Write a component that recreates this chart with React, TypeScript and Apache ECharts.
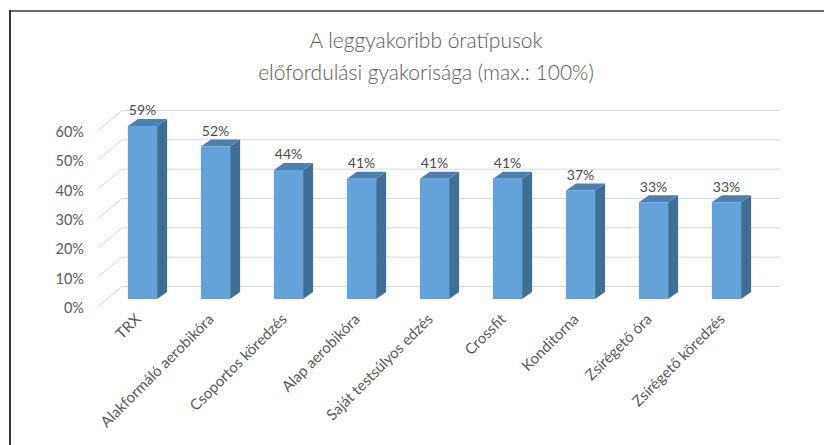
import React, { useEffect, useRef } from "react";
import * as echarts from "echarts";

const categories = [
  "TRX",
  "Alakformáló aerobikóra",
  "Csoportos köredzés",
  "Alap aerobikóra",
  "Saját testsúlyos edzés",
  "Crossfit",
  "Konditorna",
  "Zsírégető óra",
  "Zsírégető köredzés",
];
const values = [59, 52, 44, 41, 41, 41, 37, 33, 33];
const yTicks = [0, 10, 20, 30, 40, 50, 60];
const titleLines = ["A leggyakoribb óratípusok", "előfordulási gyakorisága (max.: 100%)"];

const FONT = "Lato, Calibri, 'Liberation Sans', sans-serif";

export default function App() {
  const ref = useRef<HTMLDivElement>(null);
  useEffect(() => {
    if (!ref.current) return;
    const chart = echarts.init(ref.current, undefined, { renderer: "svg" });
    const DX = 10;
    const DY = 7;
    const option: any = {
      animation: false,
      backgroundColor: "#ffffff",
      title: {
        text: titleLines.join("\n"),
        left: 421,
        top: 18,
        textAlign: "center",
        textStyle: {
          color: "#595959",
          fontSize: 21,
          fontWeight: 300,
          fontFamily: FONT,
          lineHeight: 32,
        },
      },
      graphic: [
        {
          type: "line",
          shape: { x1: 9, y1: 11, x2: 824, y2: 11 },
          style: { stroke: "#6E6E6E", lineWidth: 2 },
        },
        {
          type: "line",
          shape: { x1: 10, y1: 10, x2: 10, y2: 445 },
          style: { stroke: "#3A3A3A", lineWidth: 2 },
        },
      ],
      grid: { left: 106, right: 61, top: 123, bottom: 146 },
      xAxis: {
        type: "category",
        data: categories,
        axisLine: { show: false },
        axisTick: { show: false },
        axisLabel: {
          interval: 0,
          rotate: 45,
          margin: 12,
          formatter: (v: string) => "{a|" + v + "}",
          rich: {
            a: {
              color: "#595959",
              fontSize: 15,
              fontFamily: FONT,
              padding: [0, 7, 0, 0],
            },
          },
        },
      },
      yAxis: {
        type: "value",
        min: 0,
        max: 60,
        interval: 10,
        splitLine: { show: false },
        axisLine: { show: false },
        axisTick: { show: false },
        axisLabel: {
          formatter: "{value}%",
          margin: 22,
          color: "#595959",
          fontSize: 14.5,
          fontFamily: FONT,
          verticalAlign: "top",
          lineHeight: 17,
        },
      },
      series: [
        {
          type: "custom",
          z: 1,
          silent: true,
          clip: false,
          data: yTicks.map((v) => [0, v]),
          renderItem: (params: any, api: any) => {
            const cs = params.coordSys;
            const y = api.coord([0, api.value(1)])[1];
            const L = cs.x;
            const R = cs.x + cs.width;
            const st = { stroke: "#D9D9D9", lineWidth: 1 };
            return {
              type: "group",
              children: [
                { type: "line", shape: { x1: L - 8, y1: y + 7.5, x2: L + 16, y2: y - 12.5 }, style: st },
                { type: "line", shape: { x1: L + 16, y1: y - 12.5, x2: R + 17, y2: y - 12.5 }, style: st },
              ],
            };
          },
        },
        {
          type: "custom",
          z: 2,
          clip: false,
          data: values.map((v, i) => [i, v]),
          renderItem: (params: any, api: any) => {
            const i = api.value(0);
            const v = api.value(1);
            const top = api.coord([i, v]);
            const base = api.coord([i, 0]);
            const w = api.size([1, 0])[0] * 0.4;
            const x0 = top[0] - w / 2;
            const x1 = top[0] + w / 2;
            const yt = top[1];
            const yb = base[1];
            return {
              type: "group",
              children: [
                {
                  type: "polygon",
                  shape: { points: [[x1, yt], [x1 + DX, yt - DY], [x1 + DX, yb - DY], [x1, yb]] },
                  style: { fill: "#3F6F97" },
                },
                {
                  type: "polygon",
                  shape: { points: [[x0, yt], [x0 + DX, yt - DY], [x1 + DX, yt - DY], [x1, yt]] },
                  style: { fill: "#4C80B2" },
                },
                {
                  type: "rect",
                  shape: { x: x0, y: yt, width: w, height: yb - yt },
                  style: { fill: "#64A2DA" },
                },
                {
                  type: "text",
                  x: top[0],
                  y: yt - 16,
                  style: {
                    text: v + "%",
                    align: "center",
                    verticalAlign: "middle",
                    fill: "#4A4A4A",
                    fontSize: 14,
                    fontFamily: FONT,
                  },
                },
              ],
            };
          },
        },
      ],
    };
    chart.setOption(option);
    return () => chart.dispose();
  }, []);
  return (
    <div
      ref={ref}
      style={{ position: "fixed", left: 0, top: 0, width: 824, height: 445, background: "#fff" }}
    />
  );
}
